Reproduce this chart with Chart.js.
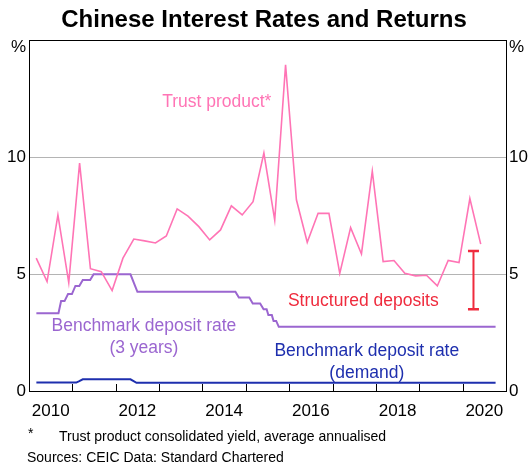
<!DOCTYPE html>
<html>
<head>
<meta charset="utf-8">
<script src="https://cdn.jsdelivr.net/npm/chart.js@4.4.1/dist/chart.umd.min.js"></script>
<style>
  html, body { margin: 0; padding: 0; background: #fff; }
</style>
</head>
<body>
<canvas id="chart" width="528" height="463"></canvas>
<script>
// quarterly trust product yield, %
const trustDates = [
  '2010-02', '2010-05', '2010-08', '2010-11',
  '2011-02', '2011-05', '2011-08', '2011-11',
  '2012-02', '2012-05', '2012-08', '2012-11',
  '2013-02', '2013-05', '2013-08', '2013-11',
  '2014-02', '2014-05', '2014-08', '2014-11',
  '2015-02', '2015-05', '2015-08', '2015-11',
  '2016-02', '2016-05', '2016-08', '2016-11',
  '2017-02', '2017-05', '2017-08', '2017-11',
  '2018-02', '2018-05', '2018-08', '2018-11',
  '2019-02', '2019-05', '2019-08', '2019-11',
  '2020-02', '2020-05'
];
const trustValues = [
  5.69, 4.69, 7.54, 4.64,
  9.76, 5.24, 5.11, 4.30,
  5.69, 6.51, 6.43, 6.34,
  6.64, 7.80, 7.49, 7.04,
  6.47, 6.90, 7.93, 7.54,
  8.11, 10.19, 7.32, 13.97,
  8.19, 6.37, 7.61, 7.61,
  5.04, 7.00, 5.87, 9.42,
  5.54, 5.59, 5.04, 4.93,
  4.96, 4.50, 5.59, 5.50,
  8.24, 6.29
];

// benchmark deposit rate (3 years): break points of the steps
const bench3Years = [2010.17, 2010.68, 2010.74, 2010.82, 2010.90, 2010.99, 2011.07, 2011.16,
  2011.24, 2011.41, 2011.49, 2012.34, 2012.50, 2014.76, 2014.84, 2015.08, 2015.16, 2015.33,
  2015.41, 2015.48, 2015.52, 2015.60, 2015.64, 2015.70, 2015.76, 2020.76];
const bench3Values = [3.33, 3.33, 3.85, 3.85, 4.15, 4.15, 4.50, 4.50,
  4.75, 4.75, 5.00, 5.00, 4.25, 4.25, 4.00, 4.00, 3.75, 3.75,
  3.50, 3.50, 3.25, 3.25, 3.00, 3.00, 2.75, 2.75];

// benchmark deposit rate (demand)
const demandYears = [2010.17, 2011.09, 2011.16, 2011.24, 2012.34, 2012.48, 2020.76];
const demandValues = [0.36, 0.36, 0.42, 0.50, 0.50, 0.35, 0.35];

// structured deposits range
const structuredYear = 2020.25;
const structuredRange = [3.5, 6.0];

const xTickLabels = ['2010', '2012', '2014', '2016', '2018', '2020'];
const xTickMarks = [2011, 2012, 2013, 2014, 2015, 2016, 2017, 2018, 2019, 2020];

const PINK = '#ff74b5';
const PURPLE = '#9b66d0';
const BLUE = '#1e2fae';
const RED = '#ef2b3d';
const FONT = "'Liberation Sans', Arial, sans-serif";

function toYear(s) {
  const [y, m] = s.split('-').map(Number);
  return y + m / 12;
}

const trustPoints = trustDates.map((d, i) => ({ x: toYear(d), y: trustValues[i] }));
const bench3Points = bench3Years.map((x, i) => ({ x: x, y: bench3Values[i] }));
const demandPoints = demandYears.map((x, i) => ({ x: x, y: demandValues[i] }));
const structuredPoints = structuredRange.map(v => ({ x: structuredYear, y: v }));

// labels in the plot, placed in data units
const notes = [
  { text: 'Trust product*', x: 2014.33, y: 12.36, color: PINK },
  { text: 'Benchmark deposit rate', x: 2012.65, y: 2.76, color: PURPLE },
  { text: '(3 years)', x: 2012.65, y: 1.84, color: PURPLE },
  { text: 'Structured deposits', x: 2017.71, y: 3.83, color: RED },
  { text: 'Benchmark deposit rate', x: 2017.79, y: 1.71, color: BLUE },
  { text: '(demand)', x: 2017.79, y: 0.76, color: BLUE }
];

const extras = {
  id: 'extras',
  afterDatasetsDraw(chart) {
    const ctx = chart.ctx;
    const xs = chart.scales.x, ys = chart.scales.y;
    const area = chart.chartArea;
    ctx.save();
    // inward tick marks on the x axis
    ctx.strokeStyle = '#000';
    ctx.lineWidth = 1;
    ctx.beginPath();
    xTickMarks.forEach(v => {
      const px = Math.round(xs.getPixelForValue(v)) + 0.5;
      ctx.moveTo(px, area.bottom);
      ctx.lineTo(px, area.bottom - 7);
    });
    ctx.stroke();
    // text labels
    ctx.font = '17.5px ' + FONT;
    ctx.textAlign = 'center';
    ctx.textBaseline = 'middle';
    notes.forEach(n => {
      ctx.fillStyle = n.color;
      ctx.fillText(n.text, xs.getPixelForValue(n.x), ys.getPixelForValue(n.y));
    });
    ctx.restore();
  },
  afterDraw(chart) {
    const ctx = chart.ctx;
    const ys = chart.scales.y;
    const area = chart.chartArea;
    ctx.save();
    ctx.fillStyle = '#000';
    ctx.textBaseline = 'middle';
    // unit label sits just below the top of each axis
    ctx.font = '17px ' + FONT;
    const py = ys.getPixelForValue(15) + 7;
    ctx.textAlign = 'right';
    ctx.fillText('%', area.left - 3, py);
    ctx.textAlign = 'left';
    ctx.fillText('%', area.right + 3, py);
    // footnotes
    ctx.font = '14px ' + FONT;
    ctx.fillText('*', 28, 434);
    ctx.fillText('Trust product consolidated yield, average annualised', 59, 437);
    ctx.fillText('Sources: CEIC Data: Standard Chartered', 27, 458);
    ctx.restore();
  }
};

const yTicks = {
  stepSize: 5,
  color: '#000',
  padding: 3,
  font: { family: FONT, size: 17 },
  callback: v => (v === 15 ? '' : String(v))
};

new Chart(document.getElementById('chart'), {
  type: 'line',
  data: {
    datasets: [
      { data: trustPoints, borderColor: PINK, borderWidth: 1.6, pointRadius: 0, tension: 0 },
      { data: bench3Points, borderColor: PURPLE, borderWidth: 2, pointRadius: 0, tension: 0 },
      { data: demandPoints, borderColor: BLUE, borderWidth: 2, pointRadius: 0, tension: 0 },
      {
        data: structuredPoints, borderColor: RED, borderWidth: 2,
        pointStyle: 'line', pointRadius: 5.5, pointBorderWidth: 2.5,
        pointBorderColor: RED, pointBackgroundColor: RED
      }
    ]
  },
  options: {
    responsive: false,
    animation: false,
    layout: { padding: 0 },
    plugins: {
      legend: { display: false },
      tooltip: { enabled: false },
      title: {
        display: true,
        text: 'Chinese Interest Rates and Returns',
        color: '#000',
        font: { family: FONT, size: 24, weight: 'bold', lineHeight: 1.2 },
        padding: { top: 6, bottom: 6 }
      }
    },
    scales: {
      x: {
        type: 'linear',
        min: 2010,
        max: 2021,
        grid: { display: false, drawTicks: false },
        border: { display: true, color: '#000', width: 1 },
        afterBuildTicks: s => { s.ticks = xTickLabels.map(t => ({ value: Number(t) + 0.5 })); },
        ticks: {
          color: '#000',
          padding: 10,
          maxRotation: 0,
          autoSkip: false,
          font: { family: FONT, size: 17 },
          callback: v => String(Math.floor(v))
        },
        afterFit: s => { s.height = 72; }
      },
      y: {
        position: 'left',
        min: 0,
        max: 15,
        ticks: yTicks,
        grid: {
          drawTicks: false,
          color: c => (c.tick.value === 15 ? '#000' : (c.tick.value === 0 ? 'rgba(0,0,0,0)' : '#b4b4b4')),
          lineWidth: 1
        },
        border: { display: true, color: '#000', width: 1 },
        afterFit: s => { s.width = 29; }
      },
      y2: {
        position: 'right',
        min: 0,
        max: 15,
        ticks: yTicks,
        grid: { display: false, drawTicks: false },
        border: { display: true, color: '#000', width: 1 },
        afterFit: s => { s.width = 22; }
      }
    }
  },
  plugins: [extras]
});
</script>
</body>
</html>
